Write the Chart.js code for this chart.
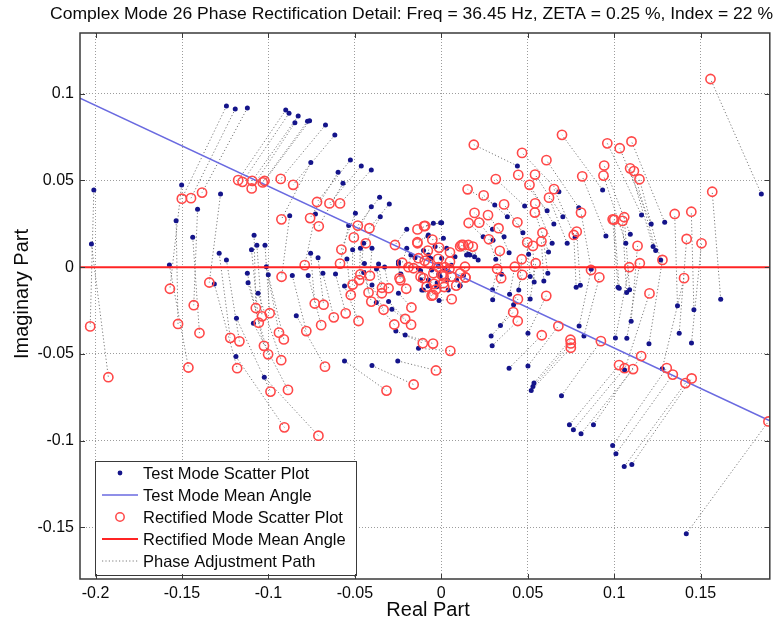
<!DOCTYPE html>
<html>
<head>
<meta charset="utf-8">
<script src="https://cdn.jsdelivr.net/npm/chart.js@4.4.1/dist/chart.umd.min.js"></script>
<style>
  html, body { margin: 0; padding: 0; background: #fff; }
  canvas { display: block; }
</style>
</head>
<body>
<canvas id="chart" width="776" height="628"></canvas>
<script>
// ---- text ----
const titleText = 'Complex Mode 26 Phase Rectification Detail: Freq = 36.45 Hz, ZETA = 0.25 %, Index = 22 %';
const xAxisTitle = 'Real Part';
const yAxisTitle = 'Imaginary Part';
const legendLabels = [
  'Test Mode Scatter Plot',
  'Test Mode Mean Angle',
  'Rectified Mode Scatter Plot',
  'Rectified Mode Mean Angle',
  'Phase Adjustment Path'
];

// ---- axes ----
const xRange = [-0.209, 0.19];
const yRange = [-0.1797, 0.135];
const xTicks = [-0.2, -0.15, -0.1, -0.05, 0, 0.05, 0.1, 0.15];
const xTickLabels = ['-0.2', '-0.15', '-0.1', '-0.05', '0', '0.05', '0.1', '0.15'];
const yTicks = [-0.15, -0.1, -0.05, 0, 0.05, 0.1];
const yTickLabels = ['-0.15', '-0.1', '-0.05', '0', '0.05', '0.1'];

// ---- test mode shape components (real, imaginary) ----
const testRe = [
  -0.2010,-0.2024,-0.1243,-0.1192,-0.1122,-0.0900,-0.0881,-0.0828,-0.0847,-0.0774,-0.0762,-0.0670,-0.0616,-0.0755,-0.0526,-0.0463,-0.0405,-0.0597,-0.0569,-0.1502,-0.1277,-0.1410,-0.1534,-0.1438,-0.0877,-0.0728,-0.0497,-0.0357,-0.0405,-0.0301,-0.0353,-0.0536,-0.1083,-0.1098,-0.1067,-0.1020,-0.1285,-0.1243,-0.1573,-0.0756,-0.0713,-0.0513,-0.0468,-0.0401,-0.0546,-0.0363,-0.0248,-0.0200,-0.0449,
  -0.1122,-0.1118,-0.1060,-0.1001,-0.0862,-0.0770,-0.0685,-0.0612,-0.0560,-0.1313,-0.1185,-0.1087,-0.1188,-0.1024,-0.0839,-0.0560,-0.0401,-0.0252,-0.0132,-0.0263,-0.0209,-0.0401,-0.0376,-0.0305,-0.0286,-0.0248,-0.0234,-0.0104,-0.0449,-0.1012,-0.0375,-0.0445,-0.0328,
  0.0440,0.0482,0.0309,0.0382,0.0242,0.0296,0.0363,0.0392,0.0472,0.0620,0.0641,0.0612,0.0651,0.0680,0.0703,0.0728,0.0795,0.0774,0.0933,0.0952,0.1093,0.1067,0.1158,0.1214,0.1292,0.1225,0.1240,0.1851,0.0002,0.0315,0.0146,0.0165,0.0213,0.0616,0.0514,0.0593,0.1029,-0.0077,
  0.1269,0.1366,0.1461,0.1616,0.1376,0.1447,0.1278,0.1201,0.1073,0.1098,0.1007,0.1072,0.1089,0.1022,0.0867,0.0804,0.0780,0.0797,0.0825,0.0537,0.0448,0.0418,0.0514,0.0395,0.0296,0.0297,0.0349,0.0299,0.0505,
  0.0288,0.0294,0.0342,0.0392,0.0501,0.0501,0.0536,0.0530,0.0520,0.0695,0.0741,0.0764,0.0808,0.0880,0.0991,0.1010,0.1058,0.1102,0.1060,0.1417,-0.0013,0.0108,
  -0.0046,-0.0004,-0.0075,0.0012,-0.0036,0.0031,-0.0075,0.0079,0.0002,-0.0056,0.0040,-0.0007,0.0088,-0.0075,-0.0113,0.0108,-0.0200,-0.0248,-0.0132,-0.0027,0.0040,-0.0077,0.0157,0.0192,0.0128,0.0035,-0.0024,-0.0120,-0.0152,-0.0176,-0.0016,0.0020,-0.0061,0.0059,-0.0015,-0.0120,-0.0103
];
const testIm = [
  0.0445,0.0134,0.0929,0.0912,0.0918,0.0906,0.0887,0.0872,0.0833,0.0841,0.0844,0.0820,0.0762,0.0603,0.0618,0.0584,0.0560,0.0547,0.0484,0.0474,0.0422,0.0334,0.0268,0.0173,0.0296,0.0307,0.0311,0.0403,0.0349,0.0365,0.0291,0.0240,0.0184,0.0100,0.0127,0.0127,0.0081,0.0042,0.0013,0.0081,0.0055,0.0100,0.0109,0.0109,0.0048,0.0019,0.0019,0.0219,0.0138,
  -0.0035,-0.0089,-0.0150,-0.0044,-0.0048,-0.0048,-0.0035,-0.0039,-0.0108,-0.0096,-0.0294,-0.0323,-0.0515,-0.0634,-0.0279,-0.0540,-0.0567,-0.0540,-0.0467,-0.0367,-0.0390,-0.0102,-0.0204,-0.0198,-0.0242,-0.0150,-0.0039,-0.0131,-0.0031,0.0003,-0.0010,0.0022,0.0002,
  0.0584,0.0353,0.0359,0.0291,0.0176,0.0219,0.0176,0.0084,0.0199,0.0088,0.0138,0.0326,0.0249,0.0435,0.0291,0.0138,0.0343,0.0173,0.0445,0.0180,0.0190,0.0138,0.0301,0.0249,0.0259,0.0119,0.0096,0.0422,0.0257,0.0046,0.0071,0.0071,0.0042,-0.0035,-0.0054,-0.0079,-0.0121,0.0180,
  0.0042,-0.0222,-0.0245,-0.0184,-0.0381,-0.0437,-0.0585,-0.0441,-0.0409,-0.0312,-0.0408,-0.0146,-0.0130,-0.0115,-0.0012,-0.0104,-0.0115,-0.0339,-0.0396,-0.0085,-0.0132,-0.0217,-0.0183,-0.0156,-0.0130,-0.0188,-0.0040,0.0156,0.0075,
  -0.0396,-0.0453,-0.0336,-0.0582,-0.0380,-0.0569,-0.0668,-0.0688,-0.0711,-0.0741,-0.0908,-0.0937,-0.0960,-0.0908,-0.1028,-0.1075,-0.1149,-0.1137,-0.0592,-0.1536,-0.0192,-0.0106,
  0.0253,0.0257,0.0186,0.0167,0.0119,0.0109,0.0071,0.0061,0.0052,-0.0016,-0.0025,-0.0054,-0.0073,-0.0073,-0.0131,-0.0108,0.0109,0.0032,-0.0006,-0.0112,-0.0131,-0.0108,0.0075,0.0061,-0.0048,-0.0073,-0.0090,-0.0020,0.0055,0.0071,0.0006,-0.0008,0.0050,0.0011,-0.0041,-0.0072,0.0097
];

// ---- rectified components, same order as the test components ----
const rectRe = [
  -0.2031,-0.1926,-0.1501,-0.1448,-0.1384,-0.1175,-0.1150,-0.1094,-0.1097,-0.1033,-0.1023,-0.0929,-0.0857,-0.0925,-0.0719,-0.0647,-0.0586,-0.0759,-0.0709,-0.1570,-0.1342,-0.1432,-0.1523,-0.1399,-0.0924,-0.0790,-0.0578,-0.0483,-0.0506,-0.0416,-0.0437,-0.0586,-0.1073,-0.1056,-0.1037,-0.0993,-0.1221,-0.1168,-0.1463,-0.0732,-0.0681,-0.0513,-0.0475,-0.0413,-0.0524,-0.0343,-0.0237,-0.0268,-0.0468,
  -0.1026,-0.1002,-0.0926,-0.0911,-0.0781,-0.0695,-0.0622,-0.0553,-0.0479,-0.1181,-0.0988,-0.0887,-0.0908,-0.0711,-0.0673,-0.0317,-0.0160,-0.0031,0.0052,-0.0107,-0.0048,-0.0334,-0.0272,-0.0209,-0.0175,-0.0173,-0.0203,-0.0047,-0.0405,-0.0939,-0.0344,-0.0421,-0.0305,
  0.0188,0.0315,0.0152,0.0245,0.0158,0.0192,0.0270,0.0331,0.0363,0.0541,0.0543,0.0445,0.0510,0.0467,0.0542,0.0623,0.0608,0.0652,0.0698,0.0815,0.0942,0.0938,0.0960,0.1032,0.1100,0.1092,0.1114,0.1557,-0.0094,0.0275,0.0109,0.0127,0.0182,0.0585,0.0497,0.0579,0.1000,-0.0138,
  0.1146,0.1350,0.1446,0.1567,0.1419,0.1505,0.1404,0.1279,0.1148,0.1135,0.1087,0.1048,0.1058,0.0991,0.0808,0.0783,0.0766,0.0866,0.0914,0.0530,0.0465,0.0468,0.0546,0.0425,0.0323,0.0346,0.0338,0.0219,0.0440,
  0.0416,0.0442,0.0443,0.0581,0.0607,0.0677,0.0747,0.0749,0.0749,0.0923,0.1028,0.1060,0.1109,0.1156,0.1304,0.1339,0.1412,0.1448,0.1204,0.1892,0.0060,0.0139,
  -0.0138,-0.0100,-0.0139,-0.0052,-0.0078,-0.0013,-0.0096,0.0050,-0.0018,-0.0046,0.0047,0.0013,0.0109,-0.0042,-0.0056,0.0140,-0.0226,-0.0242,-0.0120,0.0017,0.0086,-0.0031,0.0117,0.0156,0.0137,0.0059,0.0012,-0.0104,-0.0161,-0.0190,-0.0017,0.0021,-0.0075,0.0050,0.0002,-0.0085,-0.0132
];
const rectIm = [
  -0.0341,-0.0634,0.0395,0.0398,0.0430,0.0502,0.0492,0.0498,0.0454,0.0489,0.0497,0.0509,0.0475,0.0276,0.0376,0.0368,0.0368,0.0283,0.0236,-0.0124,-0.0088,-0.0219,-0.0327,-0.0379,-0.0055,0.0012,0.0102,0.0240,0.0172,0.0225,0.0138,0.0021,-0.0235,-0.0320,-0.0283,-0.0265,-0.0407,-0.0427,-0.0578,-0.0209,-0.0216,-0.0100,-0.0074,-0.0049,-0.0160,-0.0118,-0.0075,0.0128,-0.0041,
  -0.0453,-0.0502,-0.0536,-0.0416,-0.0368,-0.0334,-0.0289,-0.0266,-0.0310,-0.0582,-0.0717,-0.0707,-0.0923,-0.0971,-0.0573,-0.0711,-0.0676,-0.0595,-0.0482,-0.0438,-0.0440,-0.0245,-0.0330,-0.0298,-0.0331,-0.0232,-0.0124,-0.0160,-0.0198,-0.0377,-0.0150,-0.0146,-0.0121,
  0.0706,0.0508,0.0449,0.0414,0.0255,0.0313,0.0300,0.0225,0.0362,0.0315,0.0368,0.0532,0.0475,0.0659,0.0534,0.0401,0.0617,0.0450,0.0763,0.0524,0.0586,0.0528,0.0714,0.0686,0.0725,0.0570,0.0554,0.1085,0.0238,0.0161,0.0120,0.0128,0.0119,0.0199,0.0143,0.0149,0.0274,0.0138,
  0.0507,0.0307,0.0320,0.0435,0.0163,0.0138,-0.0063,0.0042,0.0023,0.0123,0.0000,0.0267,0.0288,0.0276,0.0315,0.0205,0.0186,-0.0016,-0.0058,0.0123,0.0046,-0.0044,0.0023,0.0003,-0.0010,-0.0063,0.0094,0.0257,0.0259,
  -0.0259,-0.0310,-0.0184,-0.0392,-0.0165,-0.0339,-0.0418,-0.0439,-0.0464,-0.0426,-0.0564,-0.0582,-0.0587,-0.0512,-0.0581,-0.0619,-0.0668,-0.0641,-0.0151,-0.0889,-0.0184,-0.0058,
  0.0218,0.0237,0.0144,0.0159,0.0096,0.0113,0.0037,0.0086,0.0048,-0.0035,-0.0009,-0.0053,-0.0035,-0.0096,-0.0164,-0.0059,0.0026,-0.0063,-0.0055,-0.0114,-0.0106,-0.0128,0.0128,0.0128,0.0003,-0.0054,-0.0092,-0.0063,-0.0006,0.0000,0.0000,0.0000,0.0023,0.0032,-0.0044,-0.0112,0.0052
];

// ---- mean-angle lines (end points on the axis limits) ----
const meanLineRe = [-0.209, 0.19];
const testMeanIm = [0.0974, -0.0885];
const rectMeanIm = [0, 0];

// ---- styling ----
const FONT = "'Liberation Sans', Arial, Helvetica, sans-serif";
const COL_TEST = '#14148a';
const COL_TEST_LINE = '#6a6ae0';
const COL_RECT = '#ff4848';
const COL_RECT_LINE = '#ff2424';
const COL_PATH = '#7a7a7a';
const COL_GRID = '#9c9c9c';
const COL_FRAME = '#3a3a3a';
const COL_TEXT = '#0a0a0a';

// ---- build datasets ----
const n = Math.min(testRe.length, testIm.length, rectRe.length, rectIm.length);
const testPts = [], rectPts = [], pathPts = [];
for (let i = 0; i < n; i++) {
  testPts.push({ x: testRe[i], y: testIm[i] });
  rectPts.push({ x: rectRe[i], y: rectIm[i] });
  // each adjustment path is its own segment; the null point breaks the line
  pathPts.push({ x: testRe[i], y: testIm[i] }, { x: rectRe[i], y: rectIm[i] }, { x: rectRe[i], y: null });
}
const testMean = meanLineRe.map((x, i) => ({ x, y: testMeanIm[i] }));
const rectMean = meanLineRe.map((x, i) => ({ x, y: rectMeanIm[i] }));

// frame, inner tick marks, titles and the boxed legend
const decorations = {
  id: 'decorations',
  afterDatasetsDraw(chart) {
    const ctx = chart.ctx;
    const L = { x: 95, y: 461, w: 262, h: 115, row: 22, first: 12 };
    ctx.save();
    ctx.fillStyle = '#ffffff';
    ctx.fillRect(L.x, L.y, L.w, L.h);
    ctx.strokeStyle = COL_FRAME;
    ctx.lineWidth = 1;
    ctx.strokeRect(L.x + 0.5, L.y + 0.5, L.w - 1, L.h - 1);
    const sx0 = L.x + 7, sx1 = L.x + 43, mx = L.x + 25, tx = L.x + 48;
    legendLabels.forEach((label, i) => {
      const y = L.y + L.first + i * L.row;
      ctx.save();
      if (i === 0) {
        ctx.fillStyle = COL_TEST;
        ctx.beginPath(); ctx.arc(mx, y, 2.4, 0, Math.PI * 2); ctx.fill();
      } else if (i === 1 || i === 3) {
        ctx.strokeStyle = i === 1 ? COL_TEST_LINE : COL_RECT_LINE;
        ctx.lineWidth = i === 1 ? 1.6 : 2;
        ctx.beginPath(); ctx.moveTo(sx0, y); ctx.lineTo(sx1, y); ctx.stroke();
      } else if (i === 2) {
        ctx.strokeStyle = COL_RECT; ctx.lineWidth = 1.5;
        ctx.beginPath(); ctx.arc(mx, y, 4.2, 0, Math.PI * 2); ctx.stroke();
      } else {
        ctx.strokeStyle = COL_PATH; ctx.lineWidth = 1;
        ctx.setLineDash([1.2, 2.2]);
        ctx.beginPath(); ctx.moveTo(sx0, y); ctx.lineTo(sx1, y); ctx.stroke();
      }
      ctx.restore();
      ctx.fillStyle = COL_TEXT;
      ctx.font = '16.5px ' + FONT;
      ctx.textAlign = 'left';
      ctx.textBaseline = 'middle';
      ctx.fillText(label, tx, y + 1);
    });
    ctx.restore();
  },
  afterDraw(chart) {
    const ctx = chart.ctx;
    const a = chart.chartArea;
    const xs = chart.scales.x, ys = chart.scales.y;
    ctx.save();
    // inward tick marks on all four sides
    ctx.strokeStyle = COL_FRAME;
    ctx.lineWidth = 1;
    ctx.beginPath();
    xTicks.forEach(v => {
      const px = Math.round(xs.getPixelForValue(v)) + 0.5;
      ctx.moveTo(px, a.bottom); ctx.lineTo(px, a.bottom - 5);
      ctx.moveTo(px, a.top); ctx.lineTo(px, a.top + 5);
    });
    yTicks.forEach(v => {
      const py = Math.round(ys.getPixelForValue(v)) + 0.5;
      ctx.moveTo(a.left, py); ctx.lineTo(a.left + 5, py);
      ctx.moveTo(a.right, py); ctx.lineTo(a.right - 5, py);
    });
    ctx.stroke();
    // plot box
    ctx.lineWidth = 1.5;
    ctx.strokeRect(a.left, a.top, a.right - a.left, a.bottom - a.top);

    // title, squeezed to the width it spans
    ctx.fillStyle = COL_TEXT;
    ctx.font = '16px ' + FONT;
    ctx.textBaseline = 'middle';
    ctx.textAlign = 'center';
    const tw = ctx.measureText(titleText).width;
    const target = 723;
    ctx.save();
    ctx.translate(411.5, 15);
    ctx.scale(target / tw, 1);
    ctx.fillText(titleText, 0, 0);
    ctx.restore();

    // axis titles
    ctx.font = '20px ' + FONT;
    ctx.fillText(xAxisTitle, 428, 610);
    ctx.save();
    ctx.translate(22, 294);
    ctx.rotate(-Math.PI / 2);
    ctx.fillText(yAxisTitle, 0, 0);
    ctx.restore();
    ctx.restore();
  }
};

const tickFont = { family: FONT, size: 16 };

new Chart(document.getElementById('chart'), {
  type: 'scatter',
  data: {
    datasets: [
      { label: legendLabels[4], data: pathPts, showLine: true, spanGaps: false,
        borderColor: COL_PATH, borderWidth: 1, borderDash: [1.2, 2.2],
        pointRadius: 0, order: 5 },
      { label: legendLabels[0], data: testPts, pointRadius: 2.5,
        pointBackgroundColor: COL_TEST, pointBorderWidth: 0, order: 4 },
      { label: legendLabels[1], data: testMean, showLine: true,
        borderColor: COL_TEST_LINE, borderWidth: 1.6, pointRadius: 0, order: 3 },
      { label: legendLabels[2], data: rectPts, pointRadius: 4.6,
        pointBackgroundColor: 'rgba(0,0,0,0)', pointBorderColor: COL_RECT,
        pointBorderWidth: 1.6, order: 2 },
      { label: legendLabels[3], data: rectMean, showLine: true,
        borderColor: COL_RECT_LINE, borderWidth: 2, pointRadius: 0, order: 1 }
    ]
  },
  options: {
    responsive: false,
    animation: false,
    devicePixelRatio: 1,
    events: [],
    layout: { padding: { top: 33, right: 3, bottom: 0, left: 0 } },
    plugins: { legend: { display: false }, tooltip: { enabled: false }, title: { display: false } },
    scales: {
      x: {
        type: 'linear', min: xRange[0], max: xRange[1],
        afterBuildTicks: s => { s.ticks = xTicks.map(v => ({ value: v })); },
        afterFit: s => { s.height = 49; },
        ticks: { callback: (v, i) => xTickLabels[i], font: tickFont, color: COL_TEXT,
                 padding: 5, maxRotation: 0, autoSkip: false },
        grid: { color: COL_GRID, lineWidth: 1, drawTicks: false },
        border: { display: false, dash: [1, 2] }
      },
      y: {
        type: 'linear', min: yRange[0], max: yRange[1],
        afterBuildTicks: s => { s.ticks = yTicks.map(v => ({ value: v })); },
        afterFit: s => { s.width = 80; },
        ticks: { callback: (v, i) => yTickLabels[i], font: tickFont, color: COL_TEXT,
                 padding: 6, autoSkip: false },
        grid: { color: COL_GRID, lineWidth: 1, drawTicks: false },
        border: { display: false, dash: [1, 2] }
      }
    }
  },
  plugins: [decorations]
});
</script>
</body>
</html>
